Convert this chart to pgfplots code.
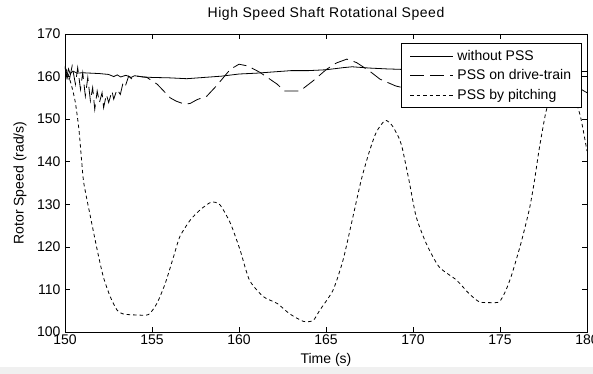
\documentclass[border=0pt]{standalone}
\usepackage{fontspec}
\setmainfont{Liberation Sans}
\usepackage{pgfplots}
\pgfplotsset{compat=1.18}
\begin{document}
\begin{tikzpicture}
\fill[color={rgb,255:red,240;green,240;blue,240}] (-65bp,-42bp) rectangle (528bp,-35bp);
\begin{axis}[
  scale only axis, width=522bp, height=298bp,
  xmin=150, xmax=180, ymin=100, ymax=170,
  xtick={150,155,...,180}, ytick={100,110,...,170},
  tick align=inside, major tick length=5bp,
  /pgf/number format/assume math mode=true,
  tick label style={font=\fontsize{14bp}{16bp}\selectfont},
  yticklabel style={xshift=-1bp},
  xticklabel style={yshift=1bp},
  label style={font=\fontsize{14bp}{16bp}\selectfont},
  title style={font=\fontsize{14bp}{16bp}\addfontfeatures{LetterSpace=4}\selectfont, at={(axis description cs:0.5,1.047)}, anchor=center},
  xlabel style={at={(axis description cs:0.5,-0.092)}, anchor=center},
  ylabel style={at={(axis description cs:-0.0862,0.5)}, anchor=center},
  title={High Speed Shaft Rotational Speed},
  xlabel={Time (s)}, ylabel={Rotor Speed (rad/s)},
  axis line style={line width=0.8bp},
  every tick/.style={line width=0.6bp, black},
  legend cell align=left,
  legend style={at={(0.9904,0.9688)}, anchor=north east, draw=black, line width=0.8bp, fill=white,
    font=\fontsize{14bp}{16bp}\selectfont, row sep=4bp, inner xsep=8.5bp, inner ysep=4.5bp,
    /tikz/every odd column/.append style={column sep=2bp}},
  legend image code/.code={\draw[#1] (0bp,0bp) -- (43bp,0bp);},
]
\addplot[black, line width=0.8bp] coordinates {
(150,162.3) (150.1,159.8) (150.2,161.8) (150.3,160.6) (150.45,161.3) (150.7,160.8)
(151,160.9) (152,160.7) (152.5,160.5) (152.8,160.0) (153.0,160.4) (153.2,159.9)
(153.5,160.3) (153.8,159.8) (154,160.2) (154.5,159.9) (155,159.8) (156,159.7)
(157,159.5) (158,159.8) (159,160.1) (160,160.6) (161,160.8) (162,161.1) (163,161.4)
(164,161.4) (165,161.6) (166,162.1) (166.5,162.3) (167.5,162.0) (168.5,161.8)
(170,161.6) (173,161.4) (176,161.3) (180,161.2)
};
\addlegendentry{without PSS}
\addplot[black, line width=0.8bp, dash pattern=on 14bp off 6bp] coordinates {
(150.00,162.5) (150.22,158.6) (150.41,162.5) (150.60,158.2) (150.73,162.1) (150.89,157.0)
(151.02,160.9) (151.17,155.4) (151.31,159.8) (151.46,154.3) (151.59,157.4) (151.71,152.3)
(151.85,156.6) (151.98,153.9) (152.13,156.2) (152.22,152.7) (152.38,155.8) (152.51,153.9)
(152.70,156.6) (152.80,154.7) (152.99,157.0) (153.18,155.8) (153.34,158.6) (153.47,157.8)
(153.66,160.1) (153.85,159.4) (154.14,160.1) (154.71,159.8) (155.3,158.2) (156.05,155.0)
(156.4,154.2) (156.9,153.5) (157.2,153.7) (157.6,154.6) (158.15,155.4) (158.7,157.8)
(159.5,161.7) (160.0,162.9) (160.5,162.5) (161.2,161.0) (162.2,158.2) (162.6,156.6)
(163.5,156.6) (164.26,159.0) (165.03,161.7) (165.6,163.2) (166.2,164.1) (166.75,163.3)
(167.5,161.3) (168.1,159.4) (169.0,157.8) (170,156.8) (171,156.3) (172,157.2) (173,159)
(174,160.8) (175,161.3) (176,160.5) (177,159.5) (178,158.6) (179,158) (179.5,157.4) (180,156.2)
};
\addlegendentry{PSS on drive-train}
\addplot[black, line width=0.8bp, dash pattern=on 3.5bp off 3bp, smooth, tension=0.4] coordinates {
(150.0,162.0) (150.15,161.0) (150.4,157.5) (150.6,153.8) (150.8,147.6) (150.95,140.5)
(151.08,135.0) (151.46,127.1) (151.85,119.3) (152.2,113.0) (152.6,108.3) (153.0,105.1)
(153.37,104.2) (154.14,104.0) (154.8,104.1) (155.28,106.7) (155.76,111.4) (156.24,117.7)
(156.6,122.4) (157.2,126.3) (157.77,128.7) (158.4,130.5) (158.9,129.9) (159.5,125.6)
(160.06,119.3) (160.6,112.2) (161.4,108.3) (162.2,106.7) (162.9,104.3) (163.7,102.5)
(164.26,102.7) (164.64,105.1) (165.4,109.8) (165.98,116.9) (166.55,127.1) (167.03,135.8)
(167.5,142.5) (167.9,147) (168.4,149.7) (168.8,148.5) (169.2,145.5) (169.4,142.9)
(169.8,135) (170.18,127.1) (170.76,120.8) (171.5,115.3) (172.5,112.2) (173.2,109.1)
(173.8,107.1) (174.4,106.9) (174.96,107.1) (175.34,109.8) (175.7,113.8) (176.2,120.8)
(176.68,128.7) (176.96,135) (177.25,142.9) (177.63,151.5) (178.0,156.5) (178.3,159)
(178.6,159.8) (178.9,159) (179.2,156) (179.6,151) (179.8,147) (180,142.5)
};
\addlegendentry{PSS by pitching}
\end{axis}
\pgfresetboundingbox
\path[use as bounding box] (-65bp,-42bp) rectangle (528bp,332bp);
\end{tikzpicture}
\end{document}
